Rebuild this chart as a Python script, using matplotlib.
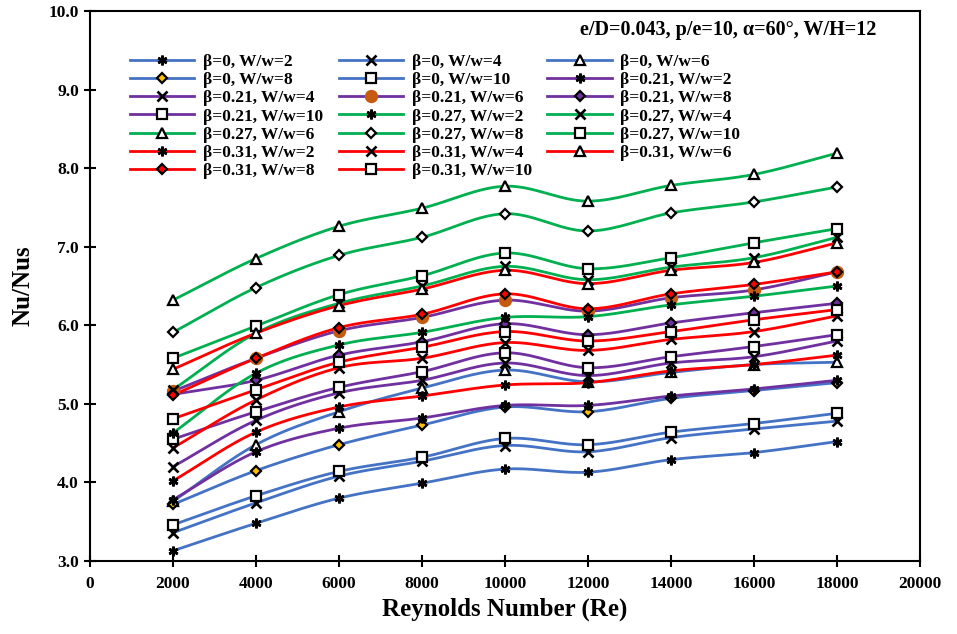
import numpy as np
import matplotlib
matplotlib.use("Agg")
import matplotlib.pyplot as plt
from matplotlib.lines import Line2D

re = [2000, 4000, 6000, 8000, 10000, 12000, 14000, 16000, 18000]

# beta = 0
b0_w2 = [3.13, 3.48, 3.80, 3.99, 4.17, 4.13, 4.29, 4.38, 4.52]
b0_w4 = [3.36, 3.74, 4.08, 4.27, 4.47, 4.39, 4.57, 4.68, 4.78]
b0_w6 = [3.76, 4.48, 4.90, 5.20, 5.43, 5.28, 5.40, 5.50, 5.53]
b0_w8 = [3.72, 4.15, 4.48, 4.73, 4.96, 4.90, 5.07, 5.17, 5.27]
b0_w10 = [3.46, 3.83, 4.14, 4.32, 4.56, 4.48, 4.64, 4.75, 4.88]
# beta = 0.21
b21_w2 = [3.78, 4.39, 4.69, 4.82, 4.98, 4.98, 5.10, 5.19, 5.30]
b21_w4 = [4.20, 4.79, 5.14, 5.30, 5.52, 5.36, 5.52, 5.60, 5.80]
b21_w6 = [5.16, 5.58, 5.93, 6.10, 6.32, 6.18, 6.35, 6.45, 6.68]
b21_w8 = [5.12, 5.30, 5.62, 5.79, 6.02, 5.88, 6.03, 6.16, 6.28]
b21_w10 = [4.55, 4.90, 5.21, 5.41, 5.65, 5.46, 5.60, 5.73, 5.88]
# beta = 0.27
b27_w2 = [4.63, 5.39, 5.75, 5.91, 6.10, 6.11, 6.26, 6.37, 6.50]
b27_w4 = [5.18, 5.90, 6.28, 6.50, 6.75, 6.58, 6.74, 6.86, 7.12]
b27_w6 = [6.32, 6.85, 7.26, 7.49, 7.77, 7.58, 7.78, 7.92, 8.19]
b27_w8 = [5.91, 6.48, 6.89, 7.12, 7.42, 7.20, 7.43, 7.57, 7.76]
b27_w10 = [5.58, 5.99, 6.39, 6.63, 6.92, 6.72, 6.86, 7.05, 7.23]
# beta = 0.31
b31_w2 = [4.02, 4.64, 4.96, 5.10, 5.24, 5.27, 5.42, 5.50, 5.62]
b31_w4 = [4.44, 5.05, 5.46, 5.58, 5.78, 5.68, 5.82, 5.92, 6.12]
b31_w6 = [5.44, 5.90, 6.25, 6.46, 6.70, 6.53, 6.70, 6.80, 7.05]
b31_w8 = [5.11, 5.58, 5.97, 6.14, 6.40, 6.21, 6.40, 6.52, 6.68]
b31_w10 = [4.81, 5.18, 5.53, 5.72, 5.92, 5.80, 5.92, 6.07, 6.20]

labels = ["β=0, W/w=2", "β=0, W/w=4", "β=0, W/w=6", "β=0, W/w=8", "β=0, W/w=10",
          "β=0.21, W/w=2", "β=0.21, W/w=4", "β=0.21, W/w=6", "β=0.21, W/w=8", "β=0.21, W/w=10",
          "β=0.27, W/w=2", "β=0.27, W/w=4", "β=0.27, W/w=6", "β=0.27, W/w=8", "β=0.27, W/w=10",
          "β=0.31, W/w=2", "β=0.31, W/w=4", "β=0.31, W/w=6", "β=0.31, W/w=8", "β=0.31, W/w=10"]
series = [b0_w2, b0_w4, b0_w6, b0_w8, b0_w10,
          b21_w2, b21_w4, b21_w6, b21_w8, b21_w10,
          b27_w2, b27_w4, b27_w6, b27_w8, b27_w10,
          b31_w2, b31_w4, b31_w6, b31_w8, b31_w10]

BLUE, PURPLE, GREEN, RED = "#4472C4", "#7030A0", "#00B050", "#FF0000"
group_colors = [BLUE] * 5 + [PURPLE] * 5 + [GREEN] * 5 + [RED] * 5
star = (6, 2, 0)
mk = [star, "x", "^", "D", "s"] * 4
faces = ["black", "none", "white", "#FFC000", "white",
         "black", "none", "#C55A11", PURPLE, "white",
         "black", "none", "white", "white", "white",
         "black", "none", "white", RED, "white"]
edges = ["black"] * 20
edges[7] = "#C55A11"
mk[7] = "o"

plt.rcParams['font.family'] = ['Liberation Serif', 'DejaVu Serif']
plt.rcParams['font.weight'] = 'bold'

fig = plt.figure(figsize=(9.57, 6.34), dpi=100)
ax = fig.add_axes([90 / 957, 1 - 561 / 634, 830 / 957, 550 / 634])


def smooth(x, y, n=30):
    x = np.asarray(x, float)
    y = np.asarray(y, float)
    m = np.zeros_like(y)
    m[1:-1] = (y[2:] - y[:-2]) / (x[2:] - x[:-2])
    m[0] = (y[1] - y[0]) / (x[1] - x[0])
    m[-1] = (y[-1] - y[-2]) / (x[-1] - x[-2])
    xs, ys = [], []
    for i in range(len(x) - 1):
        h = x[i + 1] - x[i]
        t = np.linspace(0, 1, n, endpoint=False)
        h00 = 2 * t**3 - 3 * t**2 + 1
        h10 = t**3 - 2 * t**2 + t
        h01 = -2 * t**3 + 3 * t**2
        h11 = t**3 - t**2
        xs.extend(x[i] + t * h)
        ys.extend(h00 * y[i] + h10 * h * m[i] + h01 * y[i + 1] + h11 * h * m[i + 1])
    xs.append(x[-1])
    ys.append(y[-1])
    return np.array(xs), np.array(ys)


handles = []
for i, vals in enumerate(series):
    sx, sy = smooth(re, vals)
    ax.plot(sx, sy, color=group_colors[i], lw=2.0, zorder=2)
for i, vals in enumerate(series):
    if mk[i] in ("^", "s"):
        ms = 7
    elif mk[i] == "D":
        ms = 5.5
    elif mk[i] == "o":
        ms = 8
    else:
        ms = 7
    mew = 1.9 if mk[i] in ("x", star) else 1.6
    ax.plot(re, vals, linestyle="none", marker=mk[i], markersize=ms,
            markerfacecolor=faces[i], markeredgecolor=edges[i], markeredgewidth=mew, zorder=3)
    handles.append(Line2D([0], [0], color=group_colors[i], lw=2.0, marker=mk[i], markersize=ms,
                          markerfacecolor=faces[i], markeredgecolor=edges[i], markeredgewidth=mew))

ax.set_xlim(0, 20000)
ax.set_ylim(3.0, 10.0)
ax.set_xticks(np.arange(0, 20001, 2000))
ax.set_yticks(np.arange(3, 10.01, 1))
ax.set_yticklabels([f"{v:.1f}" for v in np.arange(3, 10.01, 1)])
ax.tick_params(axis="both", direction="inout", length=9, width=1.5, labelsize=12.5)
ax.tick_params(axis="x", pad=6)
for lbl in ax.get_xticklabels() + ax.get_yticklabels():
    lbl.set_fontweight("bold")
for s in ax.spines.values():
    s.set_linewidth(1.5)

ax.set_xlabel("Reynolds Number (Re)", fontsize=18, fontweight="bold", labelpad=4)
ax.set_ylabel("Nu/Nus", fontsize=18, fontweight="bold", labelpad=10)

ax.text(0.948, 0.965, "e/D=0.043, p/e=10, α=60°, W/H=12", transform=ax.transAxes,
        ha="right", va="center", fontsize=14.5, fontweight="bold")

order = [j for c in range(3) for j in range(c, 20, 3)]
leg = ax.legend([handles[j] for j in order], [labels[j] for j in order], ncol=3,
                loc="upper left", bbox_to_anchor=(0.040, 0.935), frameon=False,
                prop={"family": ["Liberation Serif"], "weight": "bold", "size": 12.5},
                handlelength=3.7, columnspacing=0.9, labelspacing=0.12, handletextpad=0.5,
                borderaxespad=0)

fig.savefig("out.png", dpi=100)
